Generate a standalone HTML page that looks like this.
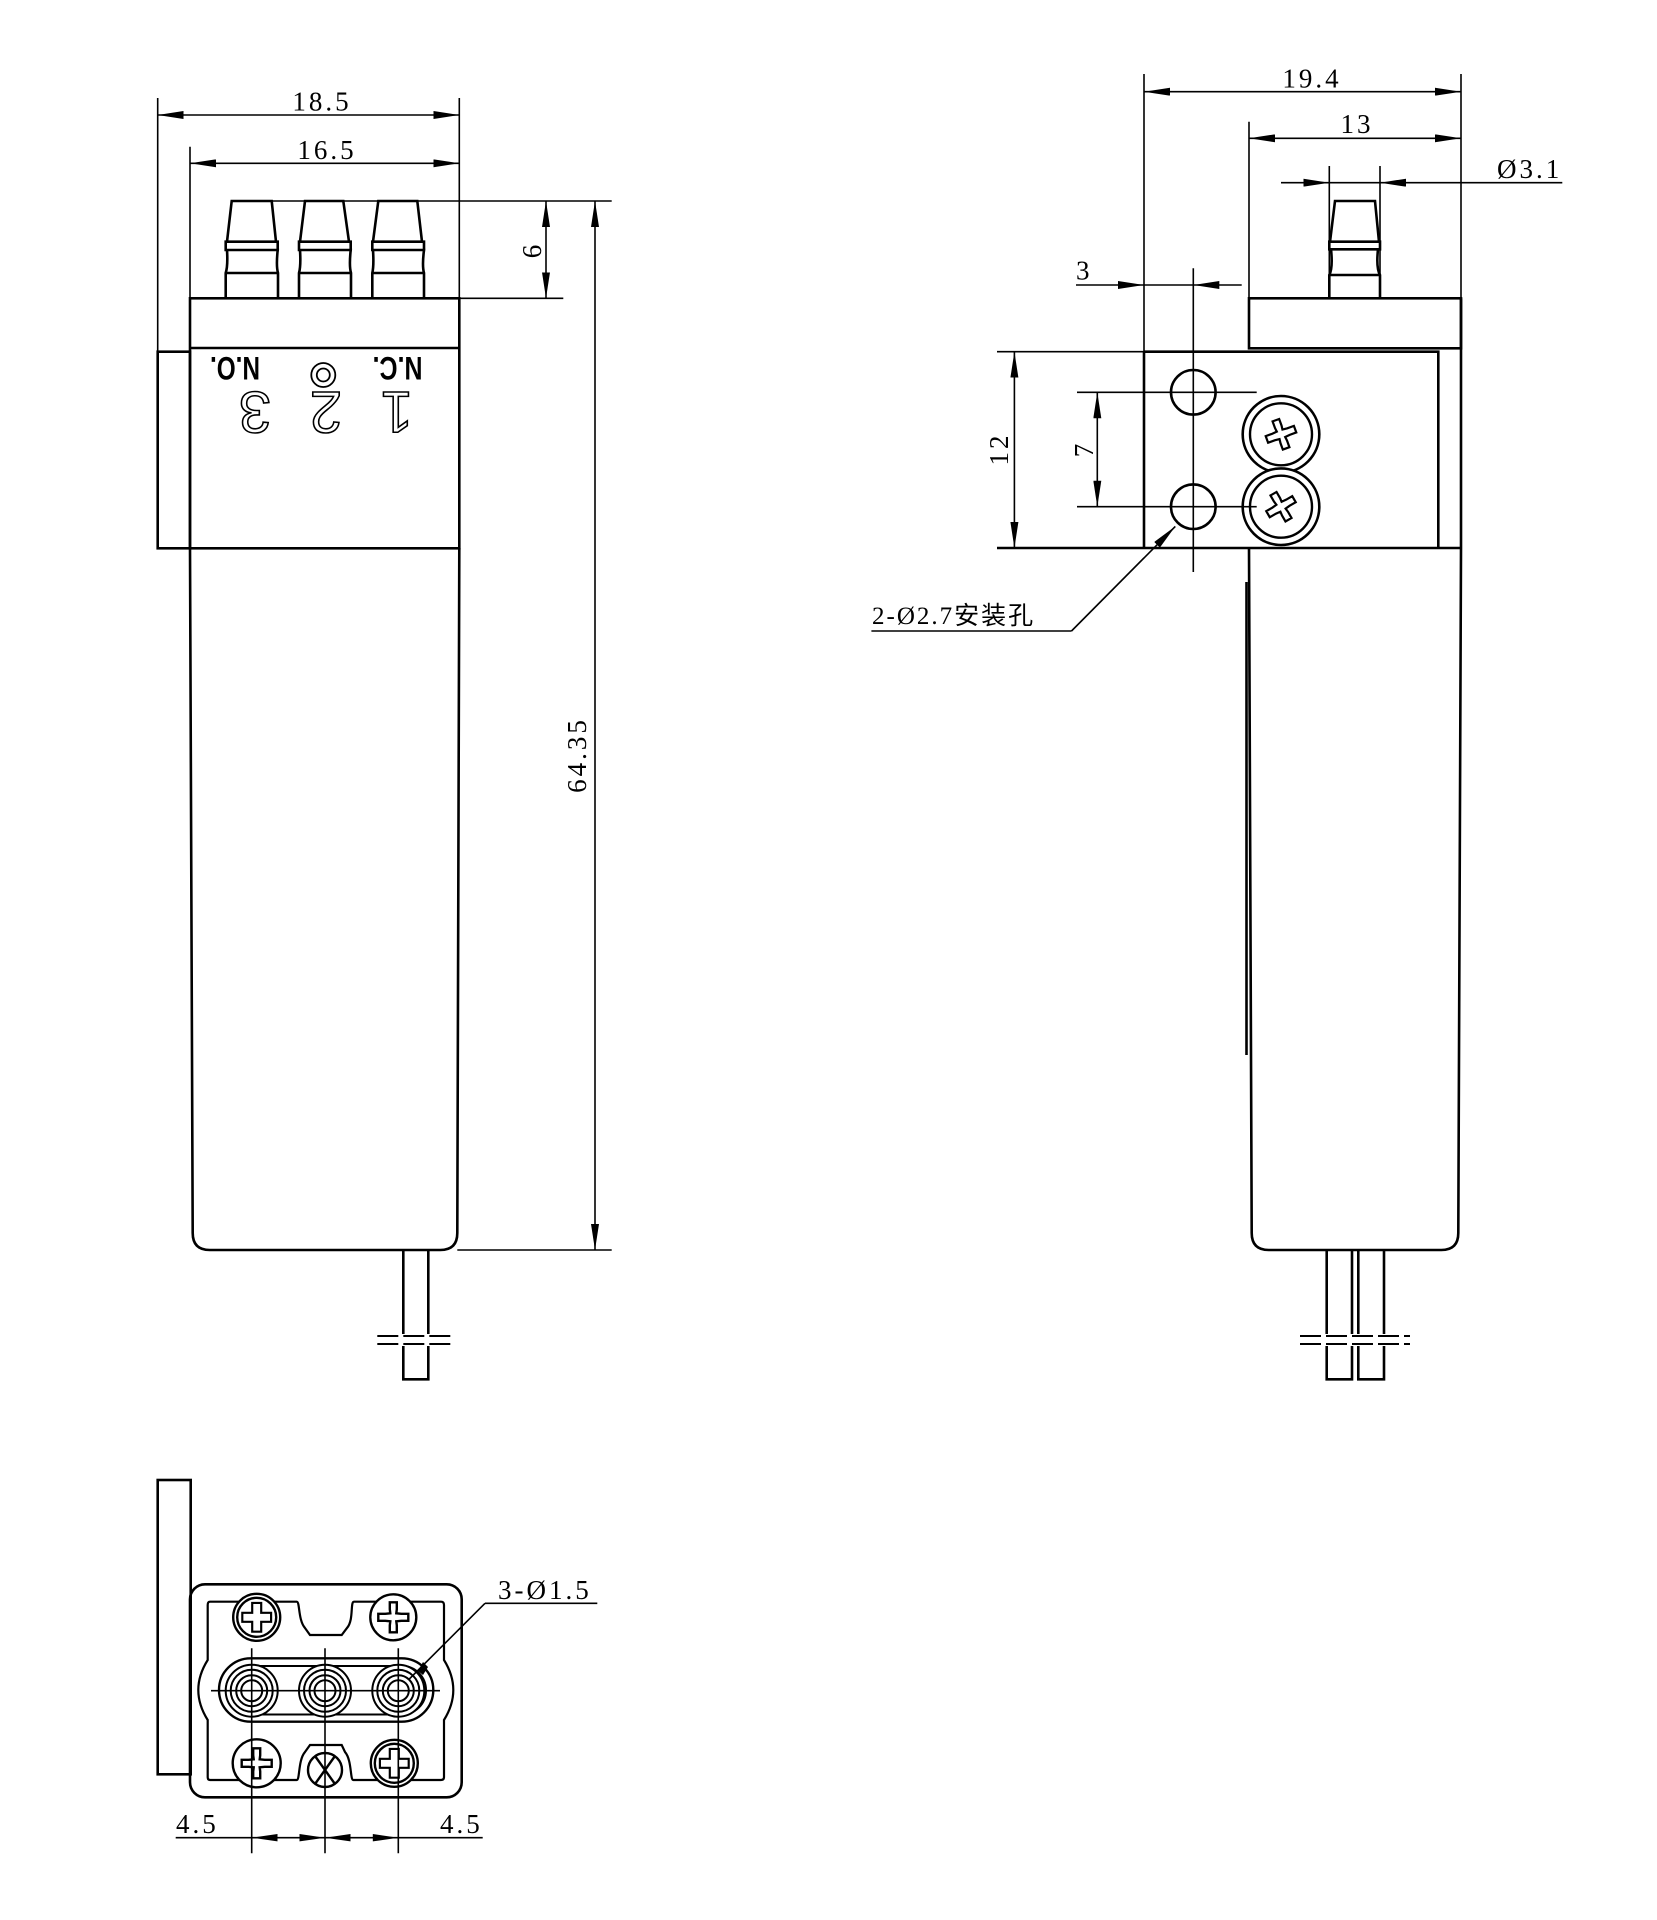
<!DOCTYPE html>
<html><head><meta charset="utf-8"><style>
html,body{margin:0;padding:0;background:#fff;}
svg{display:block;}
.o{fill:none;stroke:#000;stroke-width:2.6;}
.d{fill:none;stroke:#000;stroke-width:1.6;}
.t{font-family:"Liberation Serif","Noto Serif CJK SC",serif;font-size:27px;fill:#000;letter-spacing:3px;}
.c{font-family:"Liberation Serif","Noto Sans CJK SC",sans-serif;font-size:25px;fill:#000;letter-spacing:2px;}
.b{font-family:"Liberation Sans",sans-serif;font-weight:bold;font-size:32px;fill:#000;}
.n{font-family:"Liberation Sans",sans-serif;font-size:58px;fill:#fff;stroke:#000;stroke-width:1.6;}
</style></head><body>
<svg width="1657" height="1920" viewBox="0 0 1657 1920" xmlns="http://www.w3.org/2000/svg">
<defs>
<marker id="a" markerUnits="userSpaceOnUse" markerWidth="26" markerHeight="8" refX="26" refY="4" orient="auto-start-reverse"><path d="M0,0 L26,4 L0,8z" fill="#000"/></marker>
<path id="plus" d="M-5,-16 H5 V-5 H16 V5 H5 V16 H-5 V5 H-16 V-5 H-5 Z"/>
<path id="plus2" d="M-3.5,-15 H3.5 V-8 L3,-4 L8,-3.5 H15 V3.5 H8 L3,4 L3.5,8 V15 H-3.5 V8 L-3,4 L-8,3.5 H-15 V-3.5 H-8 L-3,-4 L-3.5,-8 Z"/>
</defs>

<!-- ============ LEFT VIEW ============ -->
<!-- dims 18.5 / 16.5 -->
<line class="d" x1="157.7" y1="98" x2="157.7" y2="352"/>
<line class="d" x1="459.3" y1="98" x2="459.3" y2="300"/>
<line class="d" x1="157.7" y1="115" x2="459.3" y2="115" marker-start="url(#a)" marker-end="url(#a)"/>
<text class="t" x="322" y="110.5" text-anchor="middle">18.5</text>
<line class="d" x1="190" y1="146.7" x2="190" y2="300"/>
<line class="d" x1="190" y1="163.3" x2="459.3" y2="163.3" marker-start="url(#a)" marker-end="url(#a)"/>
<text class="t" x="327" y="159" text-anchor="middle">16.5</text>
<!-- pins -->
<g class="o">
<path d="M225.7,298.3 V273 Q228,266 227,250 H277.7 Q276,266 278,273 V298.3 M225.7,273 H278 M225.7,241.7 H277.7 V250 H225.7 Z M227,241.7 L231.7,201 H271.7 L276,241.7"/>
<path d="M299,298.3 V273 Q301,266 300,250 H350.7 Q349,266 351,273 V298.3 M299,273 H351 M299,241.7 H350.7 V250 H299 Z M300,241.7 L305,201 H343.3 L349,241.7"/>
<path d="M372.3,298.3 V273 Q374,266 373,250 H424 Q422,266 424,273 V298.3 M372.3,273 H424 M372.3,241.7 H424 V250 H372.3 Z M373,241.7 L378.3,201 H417.3 L422,241.7"/>
</g>
<line class="d" x1="231.7" y1="201" x2="611.7" y2="201"/>
<line class="d" x1="459.3" y1="298.3" x2="563.3" y2="298.3"/>
<!-- block/housing -->
<rect class="o" x="190" y="298.3" width="269.3" height="250"/>
<line class="o" x1="190" y1="348" x2="459.3" y2="348"/>
<rect class="o" x="157.7" y="351.7" width="32.3" height="196.6"/>
<!-- markings -->
<text class="b" x="235" y="381" text-anchor="middle" textLength="50" lengthAdjust="spacingAndGlyphs" transform="rotate(180 235 369)">N.O.</text>
<text class="b" x="397.5" y="381" text-anchor="middle" textLength="50" lengthAdjust="spacingAndGlyphs" transform="rotate(180 397.5 369)">N.C.</text>
<circle cx="323.3" cy="375" r="12" fill="none" stroke="#000" stroke-width="1.8"/>
<circle cx="323.3" cy="375" r="6.5" fill="none" stroke="#000" stroke-width="1.8"/>
<text class="n" x="255" y="434" text-anchor="middle" transform="rotate(180 255 413)">3</text>
<text class="n" x="326" y="434" text-anchor="middle" transform="rotate(180 326 413)">2</text>
<text class="n" x="396.7" y="434" text-anchor="middle" transform="rotate(180 396.7 413)">1</text>
<!-- body -->
<path class="o" d="M190,548 L192.7,1233 Q192.7,1250 209.7,1250 H440.3 Q457.3,1250 457.3,1233 L459.3,548"/>
<!-- wire -->
<path class="o" d="M403.3,1250 V1334 M428.3,1250 V1334 M403.3,1346 V1379.3 H428.3 V1346" />
<g stroke="#000" stroke-width="2" stroke-dasharray="21,5">
<line x1="377.3" y1="1336" x2="455" y2="1336"/><line x1="377.3" y1="1344" x2="455" y2="1344"/></g>
<!-- dims 6 / 64.35 -->
<line class="d" x1="546" y1="201" x2="546" y2="298.3" marker-start="url(#a)" marker-end="url(#a)"/>
<text class="t" x="535" y="250" text-anchor="middle" dominant-baseline="middle" transform="rotate(-90 535 250)">6</text>
<line class="d" x1="457.3" y1="1250" x2="611.7" y2="1250"/>
<line class="d" x1="595" y1="201" x2="595" y2="1250" marker-start="url(#a)" marker-end="url(#a)"/>
<text class="t" x="580" y="755" text-anchor="middle" dominant-baseline="middle" transform="rotate(-90 580 755)">64.35</text>

<!-- ============ RIGHT VIEW ============ -->
<line class="d" x1="1144" y1="74" x2="1144" y2="548"/>
<line class="d" x1="1461" y1="74" x2="1461" y2="300"/>
<line class="d" x1="1144" y1="91.7" x2="1461" y2="91.7" marker-start="url(#a)" marker-end="url(#a)"/>
<text class="t" x="1312" y="87.5" text-anchor="middle">19.4</text>
<line class="d" x1="1249" y1="121.7" x2="1249" y2="300"/>
<line class="d" x1="1249" y1="138.3" x2="1461" y2="138.3" marker-start="url(#a)" marker-end="url(#a)"/>
<text class="t" x="1357" y="133" text-anchor="middle">13</text>
<line class="d" x1="1329.3" y1="166" x2="1329.3" y2="298"/>
<line class="d" x1="1380" y1="166" x2="1380" y2="298"/>
<line class="d" x1="1281" y1="182.7" x2="1329.3" y2="182.7" marker-end="url(#a)"/>
<line class="d" x1="1562.3" y1="182.7" x2="1380" y2="182.7" marker-end="url(#a)"/>
<line class="d" x1="1329.3" y1="182.7" x2="1380" y2="182.7"/>
<text class="t" x="1497" y="178" letter-spacing="2">Ø3.1</text>
<!-- pin -->
<path class="o" d="M1329.3,298.3 V275 Q1333,268 1331,249.3 H1378 Q1376,268 1380,275 V298.3 M1329.3,275 H1380 M1329.3,241.7 H1380 V249.3 H1329.3 Z M1330,241.7 L1335,201 H1375 L1379,241.7"/>
<!-- blocks -->
<rect class="o" x="1249" y="298.3" width="212" height="50"/>
<path class="o" d="M1144,351.7 H1438.3 V548 M1461,298.3 V548"/>
<line class="o" x1="1144" y1="351.7" x2="1144" y2="548"/>
<line class="d" x1="997" y1="351.7" x2="1144" y2="351.7"/>
<line class="o" x1="997" y1="548" x2="1461" y2="548"/>
<!-- body -->
<path class="o" d="M1249,548 L1251.7,1233 Q1251.7,1250 1268.7,1250 H1441.3 Q1458.3,1250 1458.3,1233 L1461,548"/>
<line x1="1246.5" y1="582" x2="1246.5" y2="1055" stroke="#000" stroke-width="2.6"/>
<path class="o" d="M1326.7,1250 V1334 M1352,1250 V1334 M1358.3,1250 V1334 M1384,1250 V1334 M1326.7,1346 V1379.3 H1352 V1346 M1358.3,1346 V1379.3 H1384 V1346"/>
<g stroke="#000" stroke-width="2" stroke-dasharray="21,5">
<line x1="1300" y1="1336" x2="1410" y2="1336"/><line x1="1300" y1="1344" x2="1410" y2="1344"/></g>
<!-- holes -->
<line class="d" x1="1193.3" y1="268.3" x2="1193.3" y2="572"/>
<circle class="o" cx="1193.3" cy="392.3" r="22.3"/>
<circle class="o" cx="1193.3" cy="506.7" r="22.3"/>
<line class="d" x1="1077" y1="392.3" x2="1256.7" y2="392.3"/>
<line class="d" x1="1077" y1="506.7" x2="1256.7" y2="506.7"/>
<!-- 3 dim -->
<line class="d" x1="1076" y1="285" x2="1144" y2="285" marker-end="url(#a)"/>
<line class="d" x1="1241.7" y1="285" x2="1193.3" y2="285" marker-end="url(#a)"/>
<line class="d" x1="1144" y1="285" x2="1193.3" y2="285"/>
<text class="t" x="1076" y="279.5">3</text>
<!-- 7 / 12 -->
<line class="d" x1="1097.3" y1="392.3" x2="1097.3" y2="506.7" marker-start="url(#a)" marker-end="url(#a)"/>
<text class="t" x="1087" y="449" text-anchor="middle" dominant-baseline="middle" transform="rotate(-90 1087 449)">7</text>
<line class="d" x1="1014.4" y1="351.7" x2="1014.4" y2="548" marker-start="url(#a)" marker-end="url(#a)"/>
<text class="t" x="1002" y="449" text-anchor="middle" dominant-baseline="middle" transform="rotate(-90 1002 449)">12</text>
<!-- screws -->
<g>
<circle cx="1281" cy="434.3" r="38.3" fill="#fff" stroke="#000" stroke-width="2.6"/>
<circle cx="1281" cy="434.3" r="31" fill="none" stroke="#000" stroke-width="2.4"/>
<use href="#plus2" transform="translate(1281 434.3) rotate(-20)" fill="none" stroke="#000" stroke-width="2.2"/>
<circle cx="1281" cy="506.7" r="38.3" fill="#fff" stroke="#000" stroke-width="2.6"/>
<circle cx="1281" cy="506.7" r="31" fill="none" stroke="#000" stroke-width="2.4"/>
<use href="#plus2" transform="translate(1281 506.7) rotate(-30)" fill="none" stroke="#000" stroke-width="2.2"/>
</g>
<line class="d" x1="1243" y1="506.7" x2="1256.7" y2="506.7"/>
<!-- leader -->
<line class="d" x1="1071.5" y1="631" x2="1175.3" y2="526.4" marker-end="url(#a)"/>
<line class="d" x1="871.4" y1="631" x2="1071.5" y2="631"/>
<text class="c" x="872" y="624">2-Ø2.7安装孔</text>

<!-- ============ BOTTOM VIEW ============ -->
<rect class="o" x="157.7" y="1480" width="33" height="294.3"/>
<rect class="o" x="190" y="1584.3" width="271.7" height="213" rx="15" fill="#fff"/>
<path fill="none" stroke="#000" stroke-width="2.2" d="M210,1601.7 H296.7 C300,1601.7 298,1620 305,1628 L310,1635 H341.7 L347,1628 C354,1620 350,1601.7 354,1601.7 H441 Q444,1601.7 444,1605 V1660 Q453.3,1675 453.3,1690 Q453.3,1705 444,1720 V1777 Q444,1780 441,1780 H353.3 C350,1780 352,1760 345,1752 L341.7,1745 H310 L305,1752 C298,1760 300,1780 296.7,1780 H210 Q207.7,1780 207.7,1777 V1720 Q198.3,1705 198.3,1690 Q198.3,1675 207.7,1660 V1605 Q207.7,1601.7 210,1601.7 Z"/>
<rect x="219" y="1658.3" width="214.3" height="63.4" rx="31.7" fill="none" stroke="#000" stroke-width="2.4"/>
<rect x="226" y="1666" width="200" height="48.5" rx="24" fill="none" stroke="#000" stroke-width="2"/>
<g fill="#fff" stroke="#000" stroke-width="2">
<circle cx="251.7" cy="1690.7" r="26"/><circle cx="251.7" cy="1690.7" r="21"/><circle cx="251.7" cy="1690.7" r="15.5"/><circle cx="251.7" cy="1690.7" r="10.5"/>
<circle cx="325" cy="1690.7" r="26"/><circle cx="325" cy="1690.7" r="21"/><circle cx="325" cy="1690.7" r="15.5"/><circle cx="325" cy="1690.7" r="10.5"/>
<circle cx="398.3" cy="1690.7" r="26"/><circle cx="398.3" cy="1690.7" r="21"/><circle cx="398.3" cy="1690.7" r="15.5"/><circle cx="398.3" cy="1690.7" r="10.5"/>
</g>
<!-- screws -->
<g fill="#fff" stroke="#000" stroke-width="2.4">
<circle cx="256.7" cy="1617.3" r="23.5"/><circle cx="256.7" cy="1617.3" r="19.5"/>
<circle cx="393.3" cy="1617.3" r="23"/>
<circle cx="256.7" cy="1763.3" r="24"/>
<circle cx="394.3" cy="1763.3" r="23.5"/><circle cx="394.3" cy="1763.3" r="19.5"/>
<circle cx="325" cy="1770" r="17"/>
</g>
<g fill="none" stroke="#000" stroke-width="2.4">
<use href="#plus" transform="translate(256.7 1617.3) scale(0.9)"/>
<use href="#plus" transform="translate(394.3 1763.3) scale(0.9)"/>
<use href="#plus2" transform="translate(393.3 1617.3)"/>
<use href="#plus2" transform="translate(256.7 1763.3)"/>
<path d="M315,1756 L335,1784 M335,1756 L315,1784"/>
</g>
<!-- centerlines -->
<g class="d">
<line x1="251.7" y1="1648.3" x2="251.7" y2="1853.3"/>
<line x1="325" y1="1648.3" x2="325" y2="1853.3"/>
<line x1="398.3" y1="1648.3" x2="398.3" y2="1853.3"/>
<line x1="211" y1="1690.7" x2="440" y2="1690.7"/>
<line x1="175.7" y1="1837.7" x2="482.7" y2="1837.7"/>
</g>
<g fill="#000">
<polygon points="251.7,1837.7 277.5,1834 277.5,1841.4"/>
<polygon points="325,1837.7 299.5,1834 299.5,1841.4"/>
<polygon points="325,1837.7 350.5,1834 350.5,1841.4"/>
<polygon points="398.3,1837.7 372.8,1834 372.8,1841.4"/>
</g>
<text class="t" x="176" y="1833">4.5</text>
<text class="t" x="440" y="1833">4.5</text>
<!-- leader 3-Ø1.5 -->
<line class="d" x1="408.3" y1="1680" x2="485" y2="1603.3"/>
<line class="d" x1="485" y1="1603.3" x2="597.3" y2="1603.3"/>
<polygon points="418,1671 423,1662 428,1667 423,1675" fill="#000"/>
<text class="t" x="498" y="1599" letter-spacing="2">3-Ø1.5</text>
</svg>
</body></html>
